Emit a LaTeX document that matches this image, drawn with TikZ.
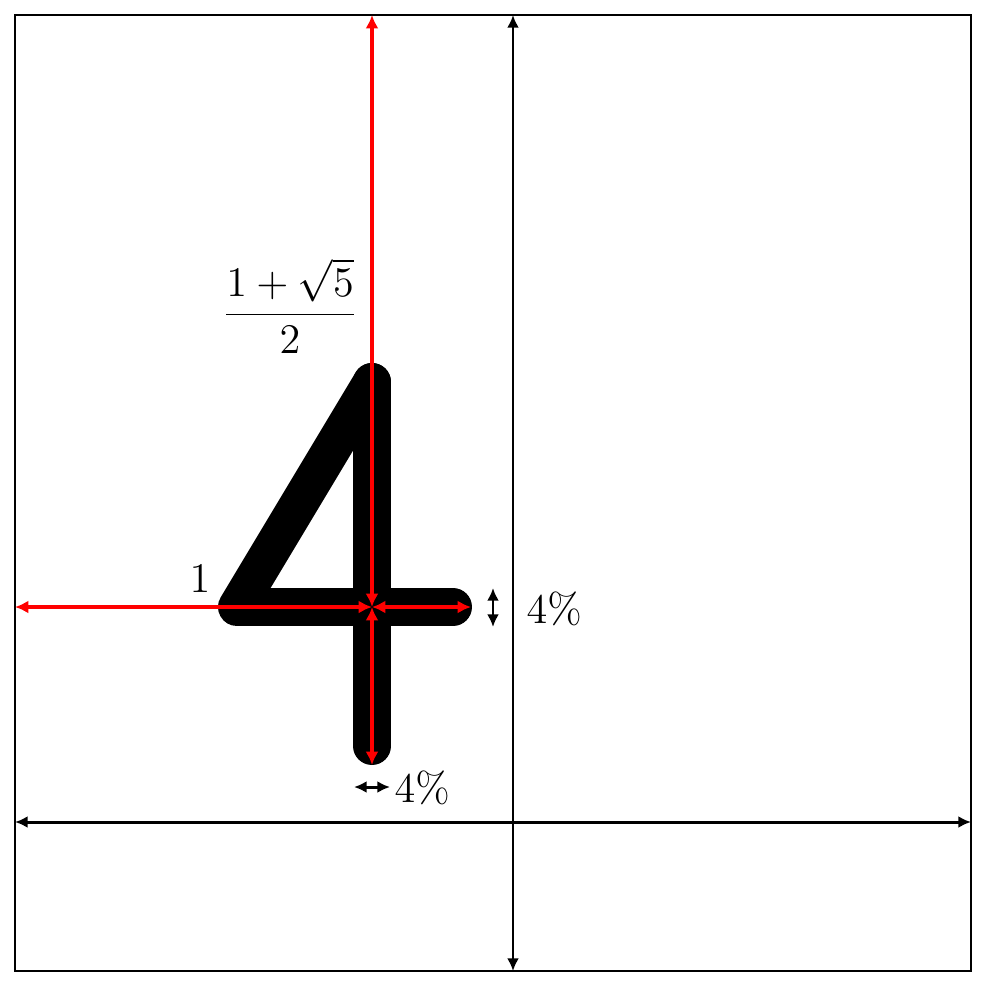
\documentclass[tikz,border=0pt]{standalone}
\usetikzlibrary{arrows.meta}
\begin{document}
\begin{tikzpicture}[x=0.01cm,y=-0.01cm,
  redarrow/.style={draw=red,line width=1.1pt,{Latex[length=3.8pt,width=3.7pt]}-{Latex[length=3.8pt,width=3.7pt]}},
  blackarrow/.style={draw=black,line width=0.85pt,{Latex[length=3.6pt,width=3.4pt]}-{Latex[length=3.6pt,width=3.4pt]}},
  glyph/.style={line width=10.8pt,line cap=round,line join=round},
  lbl/.style={font=\fontsize{11.5}{14}\selectfont,inner sep=0pt}]
\useasboundingbox (0,0) rectangle (984,984);
\draw[line width=0.3pt] (15,15) rectangle (971,971);
% named points
\coordinate (top) at (372,382);
\coordinate (corner) at (237,607);
\coordinate (arm) at (453,607);
\coordinate (foot) at (372,746);
\coordinate (c) at (372,607);
\coordinate (lft) at (15,607);
\coordinate (rgt) at (471,607);
\coordinate (up) at (372,15);
\coordinate (dn) at (372,765);
\coordinate (vt) at (513,15);
\coordinate (vb) at (513,971);
\coordinate (hl) at (15,822);
\coordinate (hr) at (971,822);
\coordinate (wt) at (493,588);
\coordinate (wb) at (493,627);
\coordinate (bl) at (354,787);
\coordinate (br) at (390,787);
% the glyph 4
\draw[glyph] (top) -- (corner) -- (arm);
\draw[glyph] (top) -- (foot);
% black axes
\draw[blackarrow] (vt) -- (vb);
\draw[blackarrow] (hl) -- (hr);
% red measures
\draw[redarrow] (lft) -- (c);
\draw[redarrow] (c) -- (rgt);
\draw[redarrow] (up) -- (c);
\draw[redarrow] (c) -- (dn);
% stroke width marks
\draw[blackarrow] (wt) -- (wb);
\draw[blackarrow] (bl) -- (br);
% labels
\node[lbl] (one) at (200,579) {$1$};
\node[lbl] (phi) at (290,306) {$\displaystyle\frac{1+\sqrt{5}}{2}$};
\node[lbl,anchor=west] (pr) at (526,609) {$4\%$};
\node[lbl,anchor=west] (pb) at (394,788) {$4\%$};
\end{tikzpicture}
\end{document}
